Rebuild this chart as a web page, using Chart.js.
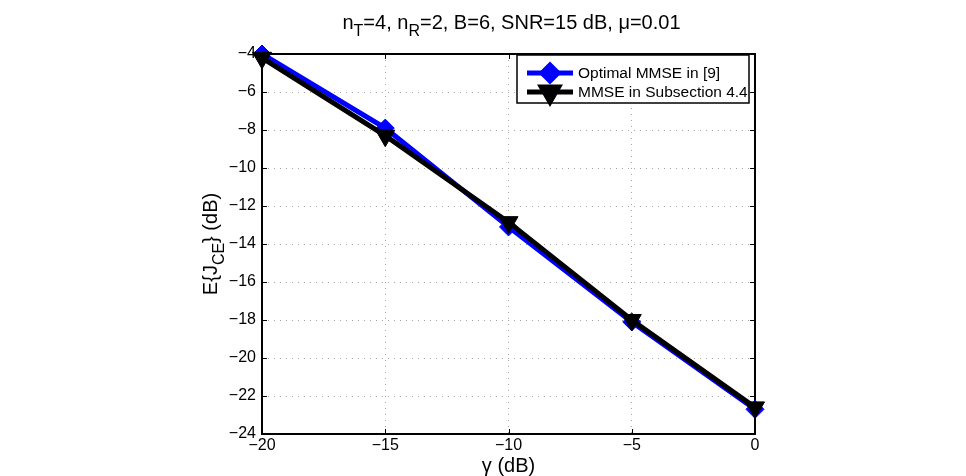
<!DOCTYPE html>
<html>
<head>
<meta charset="utf-8">
<script src="https://cdn.jsdelivr.net/npm/chart.js@4/dist/chart.umd.min.js"></script>
<style>
  html, body { margin: 0; padding: 0; background: #fff; }
  #wrap { width: 966px; height: 476px; }
</style>
</head>
<body>
<div id="wrap"><canvas id="c" width="966" height="476"></canvas></div>
<script>
// data
const gammaDb = [-20, -15, -10, -5, 0];
const optimalMmse = [-4.0, -7.9, -13.1, -18.1, -22.7];
const subsectionMmse = [-4.2, -8.3, -12.85, -18.0, -22.6];
const seriesNames = ['Optimal MMSE in [9]', 'MMSE in Subsection 4.4'];
const xTicks = [-20, -15, -10, -5, 0];
const yTicks = [-24, -22, -20, -18, -16, -14, -12, -10, -8, -6, -4];

const FONT = '"Liberation Sans", Arial, Helvetica, sans-serif';
const minus = v => String(v).replace('-', '\u2212');

// draws text pieces with subscripts, returns width
function richText(ctx, parts, x, y, size, measureOnly) {
  let cx = x;
  parts.forEach(p => {
    const sz = p.sub ? size * 0.8 : size;
    ctx.font = sz + 'px ' + FONT;
    if (!measureOnly) ctx.fillText(p.t, cx, y + (p.sub ? size * 0.35 : 0));
    cx += ctx.measureText(p.t).width;
  });
  return cx - x;
}

const framePlugin = {
  id: 'frame',
  beforeDatasetsDraw(chart) {
    const { ctx, chartArea: a, scales } = chart;
    ctx.save();
    ctx.strokeStyle = '#000';
    ctx.lineWidth = 1;
    // inward tick marks on all four sides
    ctx.beginPath();
    xTicks.forEach(v => {
      const px = Math.round(scales.x.getPixelForValue(v)) + 0.5;
      ctx.moveTo(px, a.bottom); ctx.lineTo(px, a.bottom - 5);
      ctx.moveTo(px, a.top); ctx.lineTo(px, a.top + 5);
    });
    yTicks.forEach(v => {
      const py = Math.round(scales.y.getPixelForValue(v)) + 0.5;
      ctx.moveTo(a.left, py); ctx.lineTo(a.left + 5, py);
      ctx.moveTo(a.right, py); ctx.lineTo(a.right - 5, py);
    });
    ctx.stroke();
    ctx.lineWidth = 2;
    ctx.strokeRect(a.left, a.top, a.right - a.left, a.bottom - a.top);
    ctx.restore();
  },
  afterDraw(chart) {
    const { ctx, chartArea: a } = chart;
    ctx.save();
    ctx.fillStyle = '#000';
    ctx.textBaseline = 'alphabetic';
    ctx.textAlign = 'left';

    // title
    const title = [
      { t: 'n' }, { t: 'T', sub: true }, { t: '=4, n' }, { t: 'R', sub: true },
      { t: '=2, B=6, SNR=15 dB, \u03bc=0.01' }
    ];
    const tw = richText(ctx, title, 0, 0, 20, true);
    richText(ctx, title, (a.left + a.right) / 2 - tw / 2 + 3, 29, 20);

    // x axis label
    const xl = [{ t: '\u03b3 (dB)' }];
    const xw = richText(ctx, xl, 0, 0, 20, true);
    richText(ctx, xl, (a.left + a.right) / 2 - xw / 2, 472, 20);

    // y axis label, rotated
    const yl = [{ t: 'E{J' }, { t: 'CE', sub: true }, { t: '} (dB)' }];
    const yw = richText(ctx, yl, 0, 0, 20, true);
    ctx.translate(217, (a.top + a.bottom) / 2);
    ctx.rotate(-Math.PI / 2);
    richText(ctx, yl, -yw / 2, 0, 20);
    ctx.restore();

    // legend box in the upper right corner
    ctx.save();
    const lx = 517, ly = 55, lw = 232, lh = 48;
    ctx.fillStyle = '#fff';
    ctx.fillRect(lx, ly, lw, lh);
    ctx.strokeStyle = '#000';
    ctx.lineWidth = 1.5;
    ctx.strokeRect(lx, ly, lw, lh);
    chart.data.datasets.forEach((ds, i) => {
      const y = ly + 18 + i * 19;
      ctx.strokeStyle = ds.borderColor;
      ctx.lineWidth = ds.borderWidth;
      ctx.beginPath();
      ctx.moveTo(lx + 10, y); ctx.lineTo(lx + 56, y);
      ctx.stroke();
      Chart.helpers.drawPoint(ctx, {
        pointStyle: ds.pointStyle, radius: ds.pointRadius - 1,
        rotation: ds.pointRotation, borderWidth: 1
      }, lx + 33, y);
      ctx.fillStyle = ds.borderColor;
      ctx.fill();
      ctx.fillStyle = '#000';
      ctx.font = '15.5px ' + FONT;
      ctx.textBaseline = 'middle';
      ctx.fillText(ds.label, lx + 61, y + 1);
    });
    ctx.restore();
  }
};

new Chart(document.getElementById('c'), {
  type: 'line',
  data: {
    labels: gammaDb,
    datasets: [
      {
        label: seriesNames[0],
        data: gammaDb.map((x, i) => ({ x, y: optimalMmse[i] })),
        order: 1,
        borderColor: '#0000ff', backgroundColor: '#0000ff',
        borderWidth: 5, pointStyle: 'rectRot', pointRadius: 9, pointRotation: 0,
        pointBorderWidth: 1, pointBackgroundColor: '#0000ff', pointBorderColor: '#0000ff'
      },
      {
        label: seriesNames[1],
        data: gammaDb.map((x, i) => ({ x, y: subsectionMmse[i] })),
        order: 0,
        borderColor: '#000000', backgroundColor: '#000000',
        borderWidth: 5, pointStyle: 'triangle', pointRadius: 11, pointRotation: 180,
        pointBorderWidth: 1, pointBackgroundColor: '#000000', pointBorderColor: '#000000'
      }
    ]
  },
  options: {
    responsive: false,
    animation: false,
    devicePixelRatio: 1,
    layout: { padding: { left: 0, right: 211, top: 54, bottom: 0 } },
    plugins: { legend: { display: false }, title: { display: false }, tooltip: { enabled: false } },
    elements: { line: { tension: 0 } },
    clip: false,
    scales: {
      x: {
        type: 'linear', min: -20, max: 0,
        afterBuildTicks: s => { s.ticks = xTicks.map(v => ({ value: v })); },
        afterFit: s => { s.height = 42; },
        grid: { color: '#a8a8a8', drawTicks: false, lineWidth: 1 },
        border: { display: false, dash: [1, 5] },
        ticks: { color: '#000', font: { family: FONT, size: 16 }, padding: 2, callback: v => minus(v) }
      },
      y: {
        type: 'linear', min: -24, max: -4,
        afterBuildTicks: s => { s.ticks = yTicks.map(v => ({ value: v })); },
        afterFit: s => { s.width = 262; },
        grid: { color: '#a8a8a8', drawTicks: false, lineWidth: 1 },
        border: { display: false, dash: [1, 5] },
        ticks: { color: '#000', font: { family: FONT, size: 16 }, padding: 6, callback: v => minus(v) }
      }
    }
  },
  plugins: [framePlugin]
});
</script>
</body>
</html>
